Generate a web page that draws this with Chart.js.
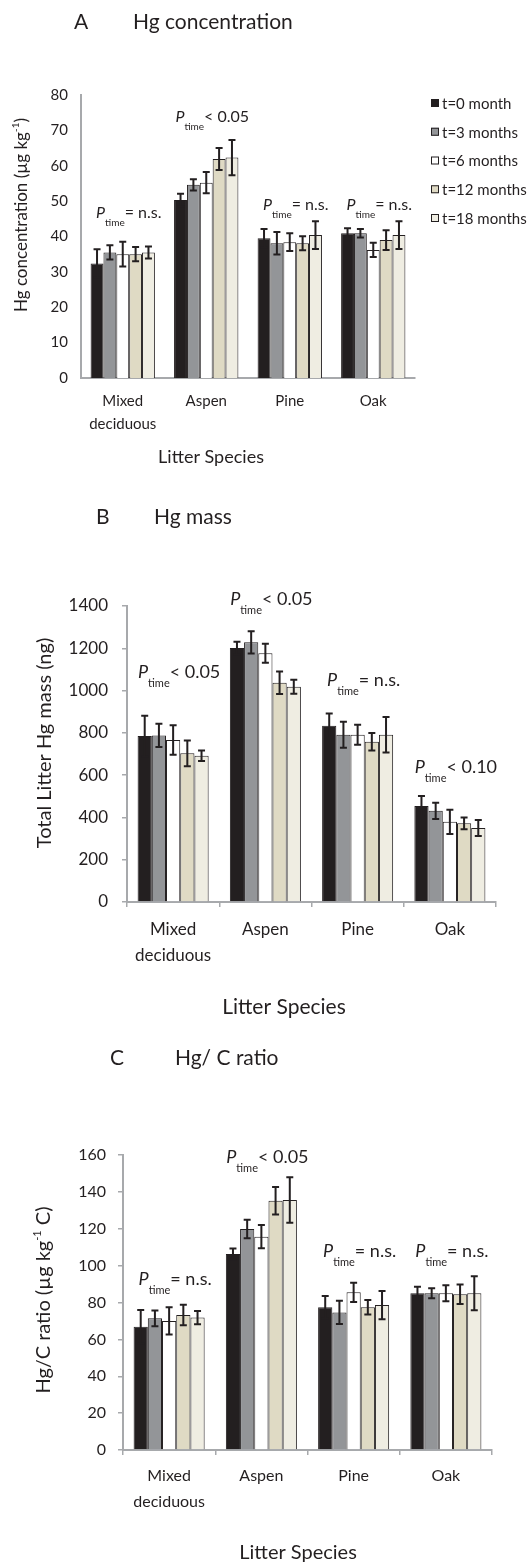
<!DOCTYPE html>
<html>
<head>
<meta charset="utf-8">
<title>Litter Hg</title>
<script src="https://cdn.jsdelivr.net/npm/chart.js@4.4.1/dist/chart.umd.min.js"></script>
<style>
  html, body { margin: 0; padding: 0; background: #fff; }
  body { position: relative; width: 528px; height: 1563px; overflow: hidden; }
  canvas { position: absolute; left: 0; }
</style>
</head>
<body>
<canvas id="chartA" width="528" height="490" style="top:0"></canvas>
<canvas id="chartB" width="528" height="540" style="top:490px"></canvas>
<canvas id="chartC" width="528" height="533" style="top:1030px"></canvas>

<script>
// ---- data ----------------------------------------------------------
const categories = [['Mixed', 'deciduous'], 'Aspen', 'Pine', 'Oak'];
const seriesLabels = ['t=0 month', 't=3 months', 't=6 months', 't=12 months', 't=18 months'];

// A: Hg concentration (µg kg-1), one row per sampling time, columns = categories
const concMean = [
  [32.4, 50.3, 39.5, 40.9],
  [35.5, 54.6, 38.1, 40.9],
  [35.0, 55.2, 38.4, 36.2],
  [35.0, 61.9, 38.1, 39.0],
  [35.5, 62.3, 40.4, 40.4],
];
const concErr = [
  [4.0, 1.8, 2.6, 1.4],
  [2.0, 1.6, 3.2, 1.2],
  [3.5, 3.0, 2.5, 2.0],
  [2.0, 3.1, 2.0, 2.8],
  [1.7, 5.0, 3.9, 3.9],
];
const concPTime = ['= n.s.', '< 0.05', '= n.s.', '= n.s.'];

// B: total litter Hg mass (ng)
const massMean = [
  [785, 1201, 834, 454],
  [788, 1228, 791, 431],
  [766, 1176, 791, 379],
  [703, 1037, 758, 372],
  [692, 1018, 791, 350],
];
const massErr = [
  [96, 30, 58, 47],
  [55, 53, 62, 38],
  [70, 45, 47, 57],
  [61, 53, 41, 28],
  [25, 33, 84, 38],
];
const massPTime = ['< 0.05', '< 0.05', '= n.s.', '< 0.10'];

// C: Hg/C ratio (µg kg-1 C)
const ratioMean = [
  [66.9, 106.3, 77.4, 85.0],
  [71.4, 119.9, 74.6, 85.0],
  [70.0, 115.7, 85.5, 85.0],
  [73.2, 135.2, 77.4, 84.5],
  [71.8, 135.6, 78.6, 85.0],
];
const ratioErr = [
  [9.0, 3.0, 6.1, 3.6],
  [4.3, 5.0, 6.3, 2.7],
  [7.4, 6.3, 5.2, 4.3],
  [5.6, 7.5, 3.9, 5.3],
  [3.6, 12.3, 7.7, 9.2],
];
const ratioPTime = ['= n.s.', '< 0.05', '= n.s.', '= n.s.'];

// ---- style ---------------------------------------------------------
const INK = '#231f20';
const AXIS_GREY = '#a7a9ac';
const FONT = 'Lato, "Open Sans", sans-serif';
const SERIES_COLORS = ['#231f20', '#939598', '#ffffff', '#dfdac4', '#efede2'];

Chart.defaults.font.family = FONT;
Chart.defaults.color = INK;

// draws a run of differently-sized text pieces centred on x
function drawRich(ctx, segs, x, y) {
  let w = 0;
  segs.forEach((s) => { ctx.font = s.font; w += ctx.measureText(s.text).width; });
  let cx = x - w / 2;
  segs.forEach((s) => {
    ctx.font = s.font;
    ctx.fillText(s.text, cx, y + (s.dy || 0));
    cx += ctx.measureText(s.text).width;
  });
}

const errorBars = {
  id: 'errorBars',
  afterDatasetsDraw(chart) {
    const { ctx } = chart;
    const y = chart.scales.y;
    ctx.save();
    ctx.strokeStyle = INK;
    ctx.lineWidth = 2;
    chart.data.datasets.forEach((ds, i) => {
      chart.getDatasetMeta(i).data.forEach((bar, j) => {
        const v = ds.data[j];
        const e = ds.errors[j];
        const top = y.getPixelForValue(v + e);
        const bot = y.getPixelForValue(v - e);
        ctx.beginPath();
        ctx.moveTo(bar.x, top); ctx.lineTo(bar.x, bot);
        ctx.moveTo(bar.x - 3.5, top); ctx.lineTo(bar.x + 3.5, top);
        ctx.moveTo(bar.x - 3.5, bot); ctx.lineTo(bar.x + 3.5, bot);
        ctx.stroke();
      });
    });
    ctx.restore();
  },
};

function buildPanel(p) {
  const datasets = seriesLabels.map((label, i) => ({
    label,
    data: p.means[i],
    errors: p.errors[i],
    backgroundColor: SERIES_COLORS[i],
    borderColor: INK,
    borderWidth: 1,
    categoryPercentage: 0.77,
    barPercentage: 1,
  }));

  // titles, axis titles, P_time notes and (panel A) the legend
  const panelText = {
    id: 'panelText',
    afterDraw(chart) {
      const { ctx } = chart;
      ctx.save();
      ctx.fillStyle = INK;
      ctx.textAlign = 'left';
      ctx.textBaseline = 'alphabetic';
      ctx.font = `${p.titleSize}px ${FONT}`;
      ctx.fillText(p.letter, p.letterX, p.titleY);
      ctx.fillText(p.title, p.titleX, p.titleY);

      // y axis title
      ctx.save();
      ctx.translate(p.yTitleX, p.yTitleY);
      ctx.rotate(-Math.PI / 2);
      ctx.textBaseline = 'middle';
      drawRich(ctx, p.yTitle, 0, 0);
      ctx.restore();

      // x axis title
      ctx.textBaseline = 'middle';
      ctx.font = `${p.xTitleSize}px ${FONT}`;
      ctx.textAlign = 'center';
      ctx.fillText('Litter Species', p.xTitleX, p.xTitleY);
      ctx.textAlign = 'left';

      // P_time annotations
      ctx.textBaseline = 'alphabetic';
      const xs = chart.scales.x;
      const ys = chart.scales.y;
      p.pTime.forEach((txt, j) => {
        const px = xs.getPixelForValue(j) + 6;
        const py = ys.getPixelForValue(p.pTimeAt[j]);
        drawRich(ctx, [
          { text: 'P', font: `italic ${p.noteSize}px ${FONT}` },
          { text: 'time', font: `${p.subSize}px ${FONT}`, dy: p.subDy },
          { text: txt, font: `${p.noteSize}px ${FONT}` },
        ], px, py);
      });

      if (p.legend) {
        ctx.textBaseline = 'middle';
        ctx.font = `15px ${FONT}`;
        seriesLabels.forEach((label, i) => {
          const cy = p.legend.y + i * p.legend.step;
          ctx.fillStyle = SERIES_COLORS[i];
          ctx.fillRect(p.legend.x, cy - 4, 8, 8);
          ctx.strokeStyle = INK;
          ctx.lineWidth = 1;
          ctx.strokeRect(p.legend.x + 0.5, cy - 3.5, 7, 7);
          ctx.fillStyle = INK;
          ctx.fillText(label, p.legend.x + 11, cy + 1);
        });
      }
      ctx.restore();
    },
  };

  const canvas = document.getElementById(p.id);
  const tickGrid = {
    display: p.tickMarks,
    drawOnChartArea: false,
    drawTicks: p.tickMarks,
    tickLength: 5,
    color: AXIS_GREY,
    lineWidth: 1.5,
  };

  new Chart(canvas, {
    type: 'bar',
    data: { labels: categories, datasets },
    options: {
      responsive: false,
      animation: false,
      layout: { padding: { top: p.area.top, right: canvas.width - p.area.right, left: 0, bottom: 0 } },
      plugins: { legend: { display: false }, tooltip: { enabled: false } },
      scales: {
        x: {
          grid: tickGrid,
          border: { color: AXIS_GREY, width: 2 },
          ticks: {
            color: INK,
            font: { size: p.catSize, lineHeight: p.catLine },
            padding: p.catPad,
            maxRotation: 0,
            autoSkip: false,
          },
          afterFit: (s) => { s.height = canvas.height - p.area.bottom; },
        },
        y: {
          min: 0,
          max: p.yMax,
          grid: tickGrid,
          border: { color: AXIS_GREY, width: 2 },
          ticks: {
            stepSize: p.yStep,
            color: INK,
            font: { size: p.tickSize },
            padding: p.tickPad,
            callback: (v) => String(v),
          },
          afterFit: (s) => { s.width = p.area.left; },
        },
      },
    },
    plugins: [errorBars, panelText],
  });
}

buildPanel({
  id: 'chartA', letter: 'A', title: 'Hg concentration',
  means: concMean, errors: concErr, pTime: concPTime, pTimeAt: [45.2, 72.4, 47.5, 47.5],
  yMax: 80, yStep: 10,
  area: { left: 81, right: 415, top: 95, bottom: 378 },
  titleSize: 21, letterX: 74, titleX: 133, titleY: 29,
  yTitle: [
    { text: 'Hg concentration (µg kg', font: `17px ${FONT}` },
    { text: '-1', font: `10px ${FONT}`, dy: -6 },
    { text: ')', font: `17px ${FONT}` },
  ],
  yTitleX: 22, yTitleY: 215,
  xTitleSize: 18, xTitleX: 211, xTitleY: 457,
  tickMarks: false, catSize: 15, catLine: 1.5, catPad: 12, tickSize: 15, tickPad: 13,
  noteSize: 16, subSize: 10, subDy: 8,
  legend: { x: 431, y: 103, step: 28.75 },
});

buildPanel({
  id: 'chartB', letter: 'B', title: 'Hg mass',
  means: massMean, errors: massErr, pTime: massPTime, pTimeAt: [1059, 1405, 1022, 610],
  yMax: 1400, yStep: 200,
  area: { left: 127, right: 496, top: 116, bottom: 412 },
  titleSize: 21, letterX: 96, titleX: 154, titleY: 34,
  yTitle: [{ text: 'Total Litter Hg mass (ng)', font: `20px ${FONT}` }],
  yTitleX: 45, yTitleY: 253,
  xTitleSize: 21, xTitleX: 284, xTitleY: 517,
  tickMarks: true, catSize: 17, catLine: 1.53, catPad: 10, tickSize: 17, tickPad: 14,
  noteSize: 18, subSize: 11, subDy: 9,
});

buildPanel({
  id: 'chartC', letter: 'C', title: 'Hg/ C ratio',
  means: ratioMean, errors: ratioErr, pTime: ratioPTime, pTimeAt: [89.5, 155.7, 104.7, 104.7],
  yMax: 160, yStep: 20,
  area: { left: 123, right: 492, top: 125, bottom: 420 },
  titleSize: 21, letterX: 110, titleX: 175, titleY: 35,
  yTitle: [
    { text: 'Hg/C ratio (µg kg', font: `20px ${FONT}` },
    { text: '-1', font: `11px ${FONT}`, dy: -7 },
    { text: ' C)', font: `20px ${FONT}` },
  ],
  yTitleX: 44, yTitleY: 270,
  xTitleSize: 20, xTitleX: 298, xTitleY: 523,
  tickMarks: true, catSize: 16, catLine: 1.6, catPad: 8, tickSize: 16, tickPad: 12,
  noteSize: 18, subSize: 11, subDy: 9,
});
</script>
</body>
</html>
